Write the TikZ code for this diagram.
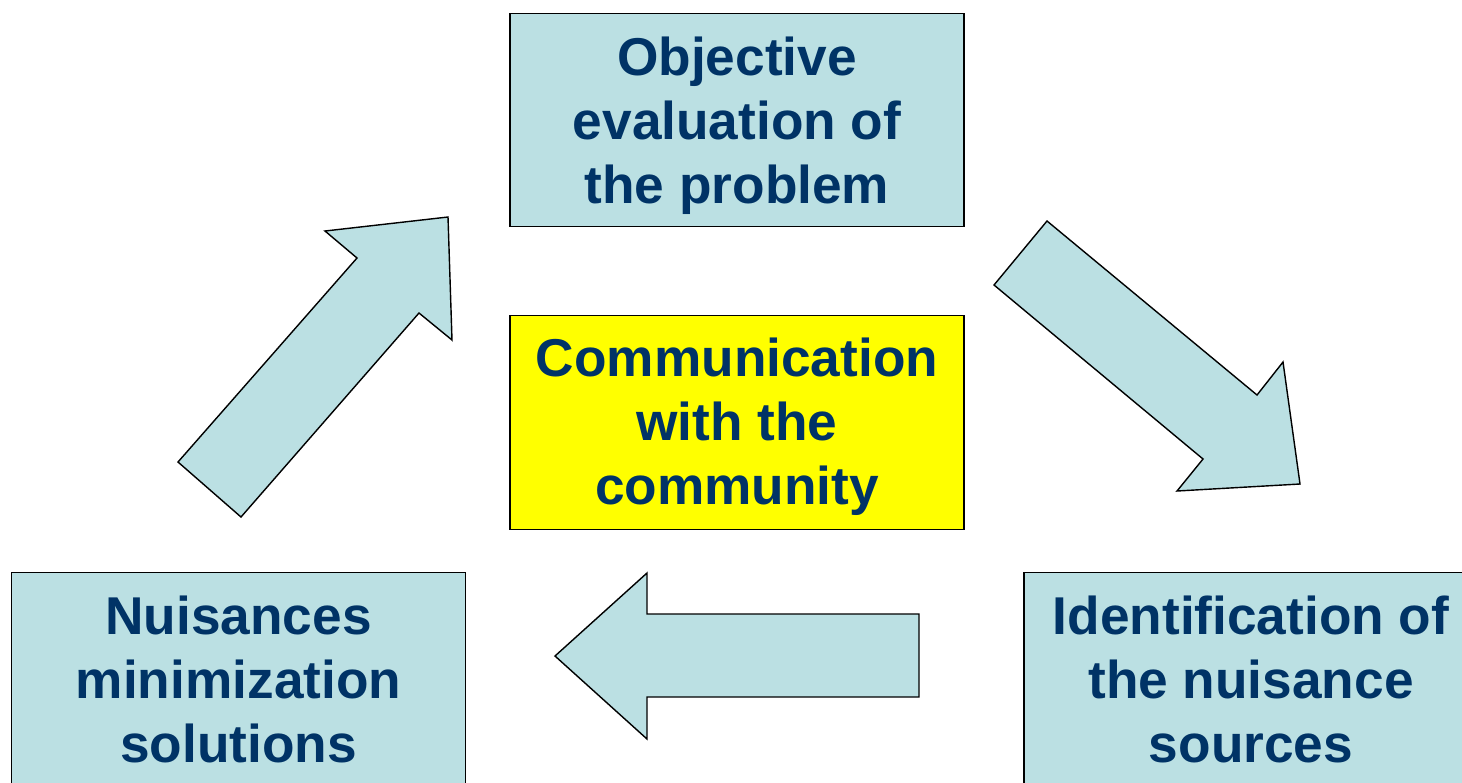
\documentclass[tikz,border=0pt]{standalone}
\usepackage{fontspec}
\setmainfont{Liberation Sans}
\definecolor{boxfill}{HTML}{BBE0E3}
\definecolor{navy}{HTML}{003366}
\definecolor{yel}{HTML}{FFFF00}
\begin{document}
\begin{tikzpicture}[x=0.02cm,y=-0.02cm,
  box/.style={draw=black,line width=0.8pt,fill=boxfill,minimum width=9.08cm,minimum height=4.27cm,inner sep=0pt},
  boxtext/.style={inner sep=0pt,align=center,text=navy,font=\fontsize{30.3}{36.3}\selectfont\bfseries},
  blockarrow/.style={draw=black,line width=0.8pt,fill=boxfill,line join=miter}]
\useasboundingbox (0,0) rectangle (1462,782);
\clip (0,0) rectangle (1462,782);
\node[box] (obj) at (737,120) {};
\node[boxtext] (objt) at ([yshift=-0.11cm]obj.center) {Objective\\evaluation of\\the problem};
\node[box,fill=yel] (comm) at (737,422.5) {};
\node[boxtext] (commt) at ([yshift=-0.08cm]comm.center) {Communication\\with the\\community};
\node[box] (nuis) at (238.5,679.5) {};
\node[boxtext] (nuist) at (nuis.center) {Nuisances\\minimization\\solutions};
\node[box] (ident) at (1251,679.5) {};
\node[boxtext] (identt) at (ident.center) {Identification of\\the nuisance\\sources};
% up-right arrow
\draw[blockarrow] (178,462) -- (357,258) -- (325,231) -- (448,217) -- (452,340) -- (419,313) -- (241,517) -- cycle;
% down-right arrow
\draw[blockarrow] (1047,221) -- (1257,395) -- (1283,362) -- (1300,484) -- (1177,491) -- (1203,459) -- (994,285) -- cycle;
% left arrow
\draw[blockarrow] (555,656) -- (647,573) -- (647,614) -- (919,614) -- (919,697) -- (647,697) -- (647,739) -- cycle;
\end{tikzpicture}
\end{document}
